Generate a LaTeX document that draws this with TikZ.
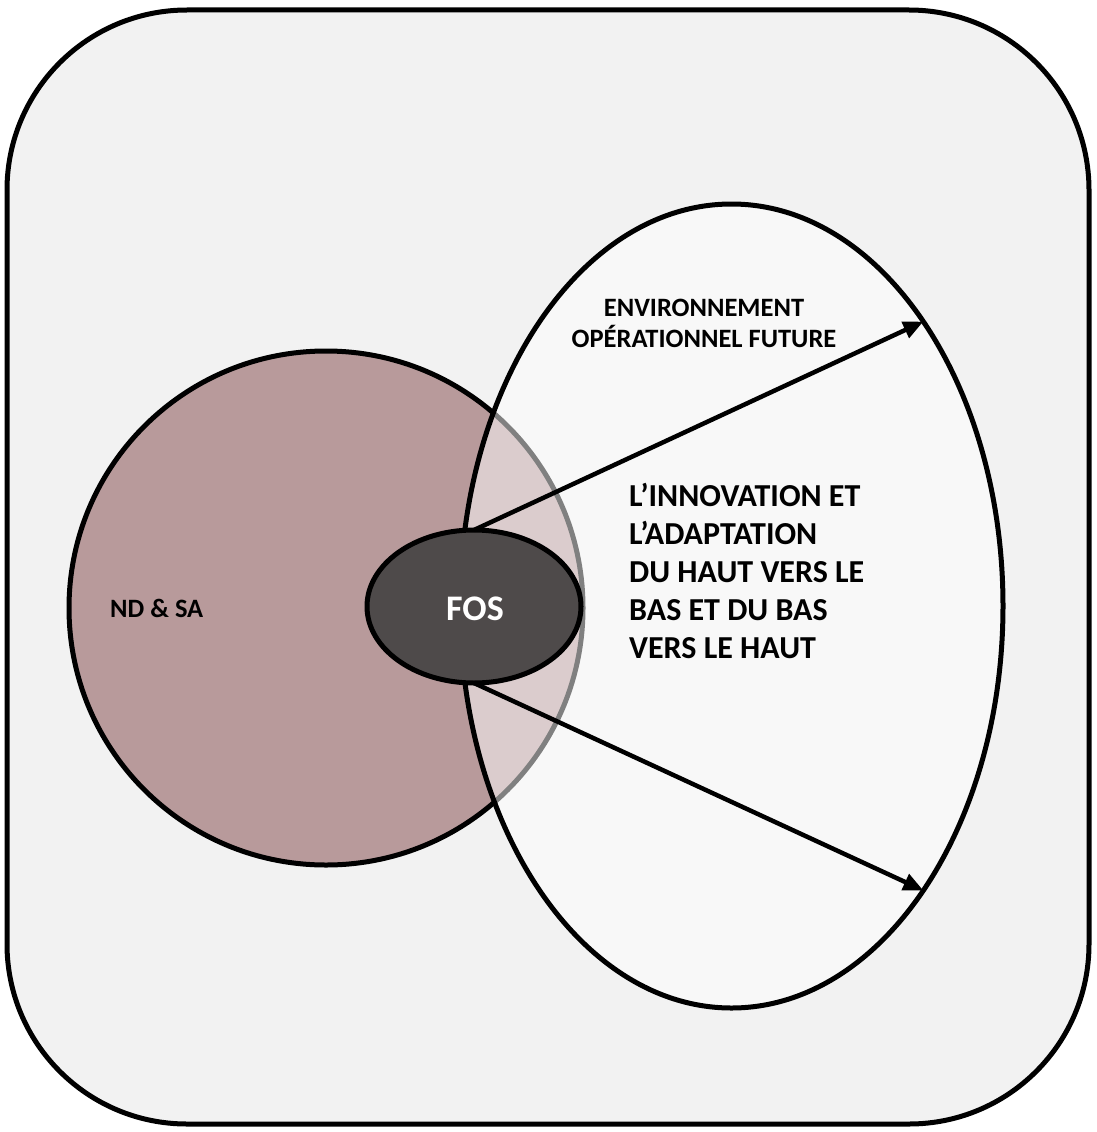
\documentclass[tikz,border=0pt]{standalone}
\usepackage{fontspec}
\setmainfont{Carlito}
\usetikzlibrary{shapes.geometric,arrows.meta}

\definecolor{panel}{HTML}{F2F2F2}
\definecolor{mauve}{HTML}{B89A9B}
\definecolor{darkcore}{HTML}{4E4A4A}

\tikzset{
  frame/.style={draw=black, line width=5pt, fill=panel, rounded corners=180pt},
  zone/.style={circle, draw=black, line width=5pt, fill=mauve, inner sep=0pt, outer sep=0pt},
  future/.style={ellipse, draw=black, line width=5pt, fill=white, fill opacity=0.5, draw opacity=1, inner sep=0pt, outer sep=0pt},
  core/.style={ellipse, draw=black, line width=5pt, fill=darkcore, inner sep=0pt, outer sep=0pt},
  flow/.style={draw=black, line width=4.5pt, -{Triangle[length=20pt,width=17pt]}},
  label/.style={inner sep=0pt, font=\bfseries},
}

\begin{document}
\begin{tikzpicture}[x=1pt, y=-1pt]
  \useasboundingbox (0,0) rectangle (1096,1132);

  % outer panel
  \path[frame] (7,10) rectangle (1089,1124);

  % present zone (ND & SA)
  \node[zone, minimum size=514pt] (ndsa) at (326,608) {};
  \node[label, anchor=base west, font=\bfseries\fontsize{26.5}{31}\selectfont] (ndsatext) at (110,617) {ND \& SA};

  % future operating environment, semi-transparent over the zone
  \node[future, minimum width=543pt, minimum height=804pt] (env) at (731.5,606) {};

  % core
  \node[core, minimum width=214pt, minimum height=153pt] (fos) at (474,606.5) {};
  \node[label, anchor=base, text=white, font=\bfseries\fontsize{36}{40}\selectfont] (fostext) at (475,620) {FOS};

  % arrows towards the future environment
  \draw[flow] (fos.north) -- (env.56);
  \draw[flow] (fos.south) -- (env.-56);

  % texts
  \node[label, anchor=base, align=center, font=\bfseries\fontsize{26.5}{31}\selectfont] (envtext) at (704,347)
    {ENVIRONNEMENT\\OPÉRATIONNEL FUTURE};
  \node[label, anchor=north west, align=left, font=\bfseries\fontsize{32}{38}\selectfont] (innov) at (629,483)
    {L’INNOVATION ET\\L’ADAPTATION\\DU HAUT VERS LE\\BAS ET DU BAS\\VERS LE HAUT};
\end{tikzpicture}
\end{document}
